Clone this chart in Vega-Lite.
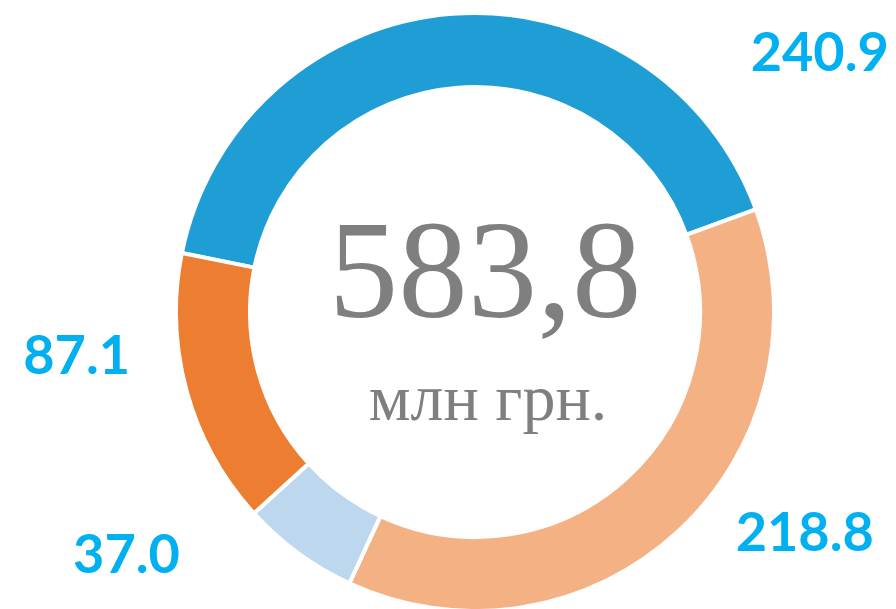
{
  "$schema": "https://vega.github.io/schema/vega-lite/v6.json",
  "width": 832,
  "height": 584,
  "autosize": {"type": "none"},
  "padding": {"left": 59, "top": 20, "right": 5, "bottom": 5},
  "background": "white",
  "config": {"view": {"stroke": null}},
  "datasets": {
    "segments": [
      {"name": "A", "value": 240.9, "order": 1},
      {"name": "B", "value": 218.8, "order": 2},
      {"name": "C", "value": 37.0, "order": 3},
      {"name": "D", "value": 87.1, "order": 4}
    ],
    "labels": [
      {"label": "240.9", "angle": 53.3, "dist": 430},
      {"label": "218.8", "angle": 124.05, "dist": 398},
      {"label": "37.0", "angle": 234.9, "dist": 426},
      {"label": "87.1", "angle": 263.4, "dist": 401}
    ],
    "center": [{"total": "583,8", "unit": "млн грн."}]
  },
  "layer": [
    {
      "data": {"name": "segments"},
      "mark": {"type": "arc", "outerRadius": 299, "innerRadius": 225, "stroke": "white", "strokeWidth": 4},
      "encoding": {
        "theta": {"field": "value", "type": "quantitative", "stack": true, "scale": {"range": [4.911, 11.1942]}},
        "order": {"field": "order", "type": "quantitative"},
        "color": {
          "field": "name",
          "type": "nominal",
          "legend": null,
          "scale": {"domain": ["A", "B", "C", "D"], "range": ["#1F9DD5", "#F4B183", "#BDD7EE", "#ED7D31"]}
        }
      }
    },
    {
      "data": {"name": "labels"},
      "mark": {"type": "text", "font": "Lato", "fontWeight": "bold", "fontSize": 54, "color": "#00B0F0", "align": "center", "baseline": "middle"},
      "encoding": {
        "theta": {"field": "angle", "type": "quantitative", "stack": null, "scale": {"domain": [0, 360], "range": [0, 6.2832], "zero": true}},
        "radius": {"field": "dist", "type": "quantitative", "scale": {"type": "linear", "domain": [0, 500], "range": [0, 500], "zero": true}},
        "text": {"field": "label", "type": "nominal"}
      }
    },
    {
      "data": {"name": "center"},
      "mark": {"type": "text", "font": "Liberation Serif", "fontSize": 139, "color": "#7F7F7F", "align": "center", "baseline": "alphabetic", "dx": 10, "dy": 5},
      "encoding": {"text": {"field": "total", "type": "nominal"}}
    },
    {
      "data": {"name": "center"},
      "mark": {"type": "text", "font": "Liberation Serif", "fontSize": 66, "color": "#7F7F7F", "align": "center", "baseline": "alphabetic", "dx": 13, "dy": 108},
      "encoding": {"text": {"field": "unit", "type": "nominal"}}
    }
  ],
  "resolve": {"scale": {"theta": "independent", "radius": "independent"}}
}
